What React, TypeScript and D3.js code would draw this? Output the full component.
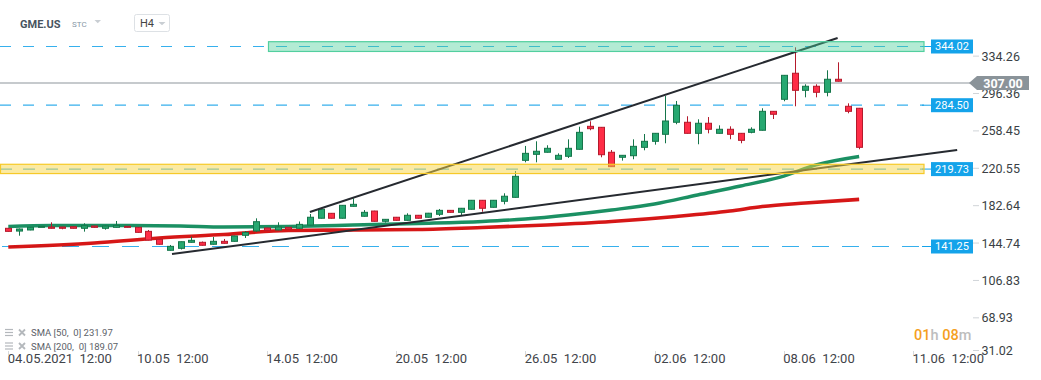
import React from 'react';
import * as d3 from 'd3';

const W = 1041;
const H = 380;

// Candles (H4)
const opens = [159.7,156.9,158.0,161.3,161.0,161.0,161.3,159.7,162.0,159.7,160.7,161.7,160.7,156.6,148.5,137.4,139.4,145.5,145.5,143.5,146.5,146.5,152.6,157.0,160.0,158.0,160.7,159.7,163.0,169.9,174.9,169.9,182.0,171.9,177.2,166.8,170.9,167.8,172.9,170.9,173.9,177.9,175.9,179.0,188.1,181.0,187.1,191.1,228.6,234.7,236.8,229.7,232.7,239.8,263.1,262.1,236.8,231.7,233.3,241.8,247.9,255.0,267.2,267.2,256.0,266.2,256.0,260.1,256.0,257.0,259.1,278.3,290.5,316.9,299.6,303.7,297.6,310.8,283.4,281.4];
const highs = [160.0,159.5,161.0,162.0,165.8,161.2,161.5,164.8,162.3,162.3,167.1,162.0,161.0,158.0,148.8,142.8,146.3,151.2,146.3,150.9,148.9,152.2,156.9,169.8,160.3,165.8,161.0,166.6,174.2,179.3,175.2,183.3,190.1,178.2,177.5,169.1,171.2,174.9,173.2,175.3,179.3,178.2,180.3,188.4,188.4,188.4,195.2,217.8,243.2,247.9,243.9,235.7,249.9,262.7,268.2,262.4,239.1,234.0,249.9,255.3,256.3,293.8,288.8,273.3,270.2,272.5,264.1,263.1,256.3,262.1,281.4,278.6,315.1,343.2,305.7,305.7,319.9,328.0,286.4,281.7];
const lows = [156.4,152.2,157.7,161.0,159.5,158.7,159.5,156.3,160.4,158.3,160.5,160.5,155.3,147.5,143.2,137.1,138.2,145.2,142.2,143.2,144.2,146.2,149.9,156.0,157.4,157.7,158.7,159.4,162.7,169.6,169.6,169.6,181.7,171.6,166.5,165.5,167.5,167.5,169.6,170.6,172.2,175.6,173.2,178.7,176.5,180.7,184.0,190.8,226.6,226.6,236.5,229.4,231.0,239.5,259.1,231.7,221.9,228.3,229.7,238.8,244.5,245.9,265.2,255.7,244.9,256.0,255.7,250.0,245.9,256.0,258.8,270.5,288.5,283.4,292.5,292.5,293.5,308.5,276.3,239.8];
const closes = [156.6,159.0,160.7,161.7,159.7,159.7,159.7,162.3,160.7,162.0,162.7,160.7,155.6,147.8,143.5,141.4,146.1,147.5,142.5,146.5,144.5,151.9,155.6,166.4,157.7,161.0,159.0,163.7,170.9,179.0,169.9,183.0,184.0,175.9,166.8,168.8,167.8,172.9,169.9,175.0,177.9,175.9,180.0,188.1,180.0,188.1,192.2,212.4,235.7,237.8,240.8,233.7,240.8,257.0,260.7,234.3,222.2,233.7,242.8,247.9,256.0,268.5,284.4,256.0,266.2,260.1,260.1,255.0,248.9,260.1,278.3,275.3,314.8,299.6,303.7,297.6,310.8,308.8,278.3,241.8];

// Moving averages read at sample candles
const sma50Idx = [0,4,10,16,20,26,32,38,44,48,52,56,60,64,68,72,75,79];
const sma50Val = [161.5,162.5,162.5,162.0,161.0,161.5,163.0,164.6,166.6,169.1,173.2,178.3,184.3,193.5,202.6,212.7,223.9,232.5];
const sma200Idx = [0,8,14,20,26,32,38,44,50,56,62,67,70,74,79];
const sma200Val = [140.7,144.8,149.9,153.4,157.5,158.0,158.5,160.5,163.1,166.6,171.7,177.2,181.8,185.4,189.0];

// Trend lines: [startIndex, startPrice, endIndex, endPrice]
const trendUpper = [28.0, 176.2, 77.0, 352.7];
const trendLower = [15.2, 133.6, 88.1, 239.1];

// Levels
const levelPrices = [344.02, 284.50, 219.73, 141.25];
const currentPrice = 307.0;
const zoneTeal = [339.0, 348.9];
const zoneYellow = [215.2, 224.6];

const yTicks = [334.26, 296.36, 258.45, 220.55, 182.64, 144.74, 106.83, 68.93, 31.02];
const dateIdx = [0, 12, 24, 36, 48, 60, 72, 84];
const dateLabels = ['04.05.2021  12:00', '10.05  12:00', '14.05  12:00', '20.05  12:00', '26.05  12:00', '02.06  12:00', '08.06  12:00', '11.06  12:00'];

const legendLabels = ['SMA [50,  0] 231.97', 'SMA [200,  0] 189.07'];

const FONT = 'Roboto, "Noto Sans", sans-serif';
const BLUE = '#14a3ea';
const GREEN_FILL = '#27a871';
const GREEN_STROKE = '#15754a';
const RED_FILL = '#ff2d47';
const RED_STROKE = '#b51a2c';

export default function App() {
  const x = d3.scaleLinear().domain([0, 84]).range([8.3, 913]);
  const y = d3.scaleLinear().domain([141.25, 344.02]).range([246.5, 46.5]);

  const lineGen = d3.line<[number, number]>().x(d => x(d[0])).y(d => y(d[1])).curve(d3.curveMonotoneX);
  const sma50Path = lineGen(sma50Idx.map((v, i) => [v, sma50Val[i]] as [number, number])) || '';
  const sma200Path = lineGen(sma200Idx.map((v, i) => [v, sma200Val[i]] as [number, number])) || '';

  const lineEnd = 924;
  const boxX = 931;
  const boxW = 42;

  return (
    <svg width={W} height={H} style={{ position: 'absolute', left: 0, top: 0, background: '#fff' }} fontFamily={FONT}>
      <rect x={0} y={0} width={W} height={H} fill="#fff" />

      {/* Header */}
      <text x={20} y={27.5} fontSize={11} fontWeight={700} fill="#48535e">GME.US</text>
      <text x={72} y={26.5} fontSize={8} fill="#8797a6">STC</text>
      <path d="M94.5,20 L101,20 L97.75,23.2 Z" fill="#c9ced3" />
      <rect x={134.5} y={14.5} width={35} height={17} rx={2} fill="#fff" stroke="#dde1e5" />
      <text x={140} y={27.3} fontSize={11} fill="#444">H4</text>
      <path d="M158.5,22 L165.5,22 L162,25.3 Z" fill="#c9ced3" />

      {/* Dashed levels (under zones) */}
      <line x1={0} x2={lineEnd} y1={y(levelPrices[0])} y2={y(levelPrices[0])} stroke={BLUE} strokeDasharray="11 12" strokeWidth={1} opacity={0.85} />
      <line x1={0} x2={lineEnd} y1={y(levelPrices[1])} y2={y(levelPrices[1])} stroke={BLUE} strokeDasharray="11 12" strokeWidth={1.2} opacity={0.85} />
      <line x1={0} x2={lineEnd} y1={y(levelPrices[2])} y2={y(levelPrices[2])} stroke={BLUE} strokeDasharray="12 11" strokeWidth={1.2} opacity={0.8} />
      <line x1={2} x2={lineEnd} y1={y(levelPrices[3])} y2={y(levelPrices[3])} stroke={BLUE} strokeDasharray="17 13" strokeWidth={1.2} opacity={0.85} />
      {levelPrices.map((p, i) => (
        <line key={'c' + i} x1={lineEnd - 2} x2={boxX} y1={y(p)} y2={y(p)} stroke={BLUE} strokeWidth={1} />
      ))}

      {/* current price line */}
      <line x1={0} x2={970} y1={y(currentPrice)} y2={y(currentPrice)} stroke="#8d959b" strokeWidth={1} />

      {/* SMAs */}
      <path d={sma200Path} fill="none" stroke="#d40b0b" strokeWidth={3.6} strokeLinejoin="round" opacity={0.95} />
      <path d={sma50Path} fill="none" stroke="#0f8a5b" strokeWidth={3.4} strokeLinejoin="round" opacity={0.95} />

      {/* Candles */}
      {opens.map((o, i) => {
        const c = closes[i];
        const up = c >= o;
        const cx = Math.round(x(i)) + 0.5;
        const top = y(Math.max(o, c));
        const bot = y(Math.min(o, c));
        return (
          <g key={i}>
            <line x1={cx} x2={cx} y1={y(highs[i])} y2={y(lows[i])} stroke={up ? GREEN_STROKE : RED_STROKE} strokeWidth={1} />
            <rect x={cx - 3} y={top} width={6} height={Math.max(1, bot - top)} fill={up ? GREEN_FILL : RED_FILL} stroke={up ? GREEN_STROKE : RED_STROKE} strokeWidth={1} />
          </g>
        );
      })}

      {/* Trend lines */}
      <line x1={x(trendUpper[0])} y1={y(trendUpper[1])} x2={x(trendUpper[2])} y2={y(trendUpper[3])} stroke="#262a30" strokeWidth={2} />
      <line x1={x(trendLower[0])} y1={y(trendLower[1])} x2={x(trendLower[2])} y2={y(trendLower[3])} stroke="#262a30" strokeWidth={2} />

      {/* Zones (semi-transparent overlays) */}
      <rect x={268.5} y={y(zoneTeal[1])} width={lineEnd - 268.5} height={y(zoneTeal[0]) - y(zoneTeal[1])} fill="#49cf98" fillOpacity={0.42} stroke="#52cf9f" strokeWidth={1.2} />
      <rect x={0.5} y={y(zoneYellow[1])} width={lineEnd - 0.5} height={y(zoneYellow[0]) - y(zoneYellow[1])} fill="#f8d545" fillOpacity={0.5} stroke="#f6c928" strokeWidth={1.2} />

      {/* Level labels */}
      {levelPrices.map((p, i) => (
        <g key={'l' + i}>
          <rect x={boxX} y={y(p) - 7} width={boxW} height={14} fill={BLUE} />
          <text x={boxX + boxW / 2} y={y(p)} dy="0.36em" textAnchor="middle" fontSize={11} fill="#fff">{p.toFixed(2)}</text>
        </g>
      ))}

      {/* Right axis */}
      {yTicks.map((t, i) => {
        const ty = Math.min(y(t), 350.5);
        return (
          <g key={'t' + i}>
            <line x1={973} x2={979} y1={ty} y2={ty} stroke="#d0d4d8" strokeWidth={1} />
            <text x={981.5} y={ty} dy="0.36em" fontSize={12.5} fill="#3a3f45">{t.toFixed(2)}</text>
          </g>
        );
      })}

      {/* Current price badge */}
      <path d={`M969,${y(currentPrice)} L977,${y(currentPrice) - 7} L1029,${y(currentPrice) - 7} L1029,${y(currentPrice) + 7} L977,${y(currentPrice) + 7} Z`} fill="#8a9399" />
      <text x={1003} y={y(currentPrice)} dy="0.37em" textAnchor="middle" fontSize={12.5} fontWeight={700} fill="#fff">{currentPrice.toFixed(2)}</text>

      {/* Bottom axis */}
      {dateIdx.map((d, i) => (
        <g key={'d' + i}>
          <line x1={Math.round(x(d)) + 0.5} x2={Math.round(x(d)) + 0.5} y1={351} y2={355} stroke="#d6d9dc" />
          <text x={x(d) - 0.5} y={362.5} fontSize={13} fill="#3f444a" style={{ whiteSpace: 'pre' }}>{dateLabels[i]}</text>
        </g>
      ))}

      {/* Countdown */}
      <text x={914} y={340} fontSize={14.5} fontWeight={500} style={{ whiteSpace: 'pre' }}>
        <tspan fill="#f5a01f">01</tspan>
        <tspan fill="#bdbdbd">h </tspan>
        <tspan fill="#f5a01f">08</tspan>
        <tspan fill="#bdbdbd">m</tspan>
      </text>

      {/* Legend */}
      {legendLabels.map((lbl, i) => {
        const ly = 333 + i * 13.5;
        return (
          <g key={'lg' + i}>
            <line x1={5} x2={13} y1={ly - 3.5} y2={ly - 3.5} stroke="#b4b8bc" strokeWidth={1.2} />
            <line x1={5} x2={13} y1={ly - 0.5} y2={ly - 0.5} stroke="#b4b8bc" strokeWidth={1.2} />
            <line x1={5} x2={13} y1={ly + 2.5} y2={ly + 2.5} stroke="#b4b8bc" strokeWidth={1.2} />
            <path d={`M19,${ly - 3.5} L25,${ly + 2.5} M25,${ly - 3.5} L19,${ly + 2.5}`} stroke="#b4b8bc" strokeWidth={1.8} />
            <text x={31} y={ly} dy="0.34em" fontSize={9.5} fill="#5b6168" style={{ whiteSpace: 'pre' }}>{lbl}</text>
          </g>
        );
      })}
    </svg>
  );
}
